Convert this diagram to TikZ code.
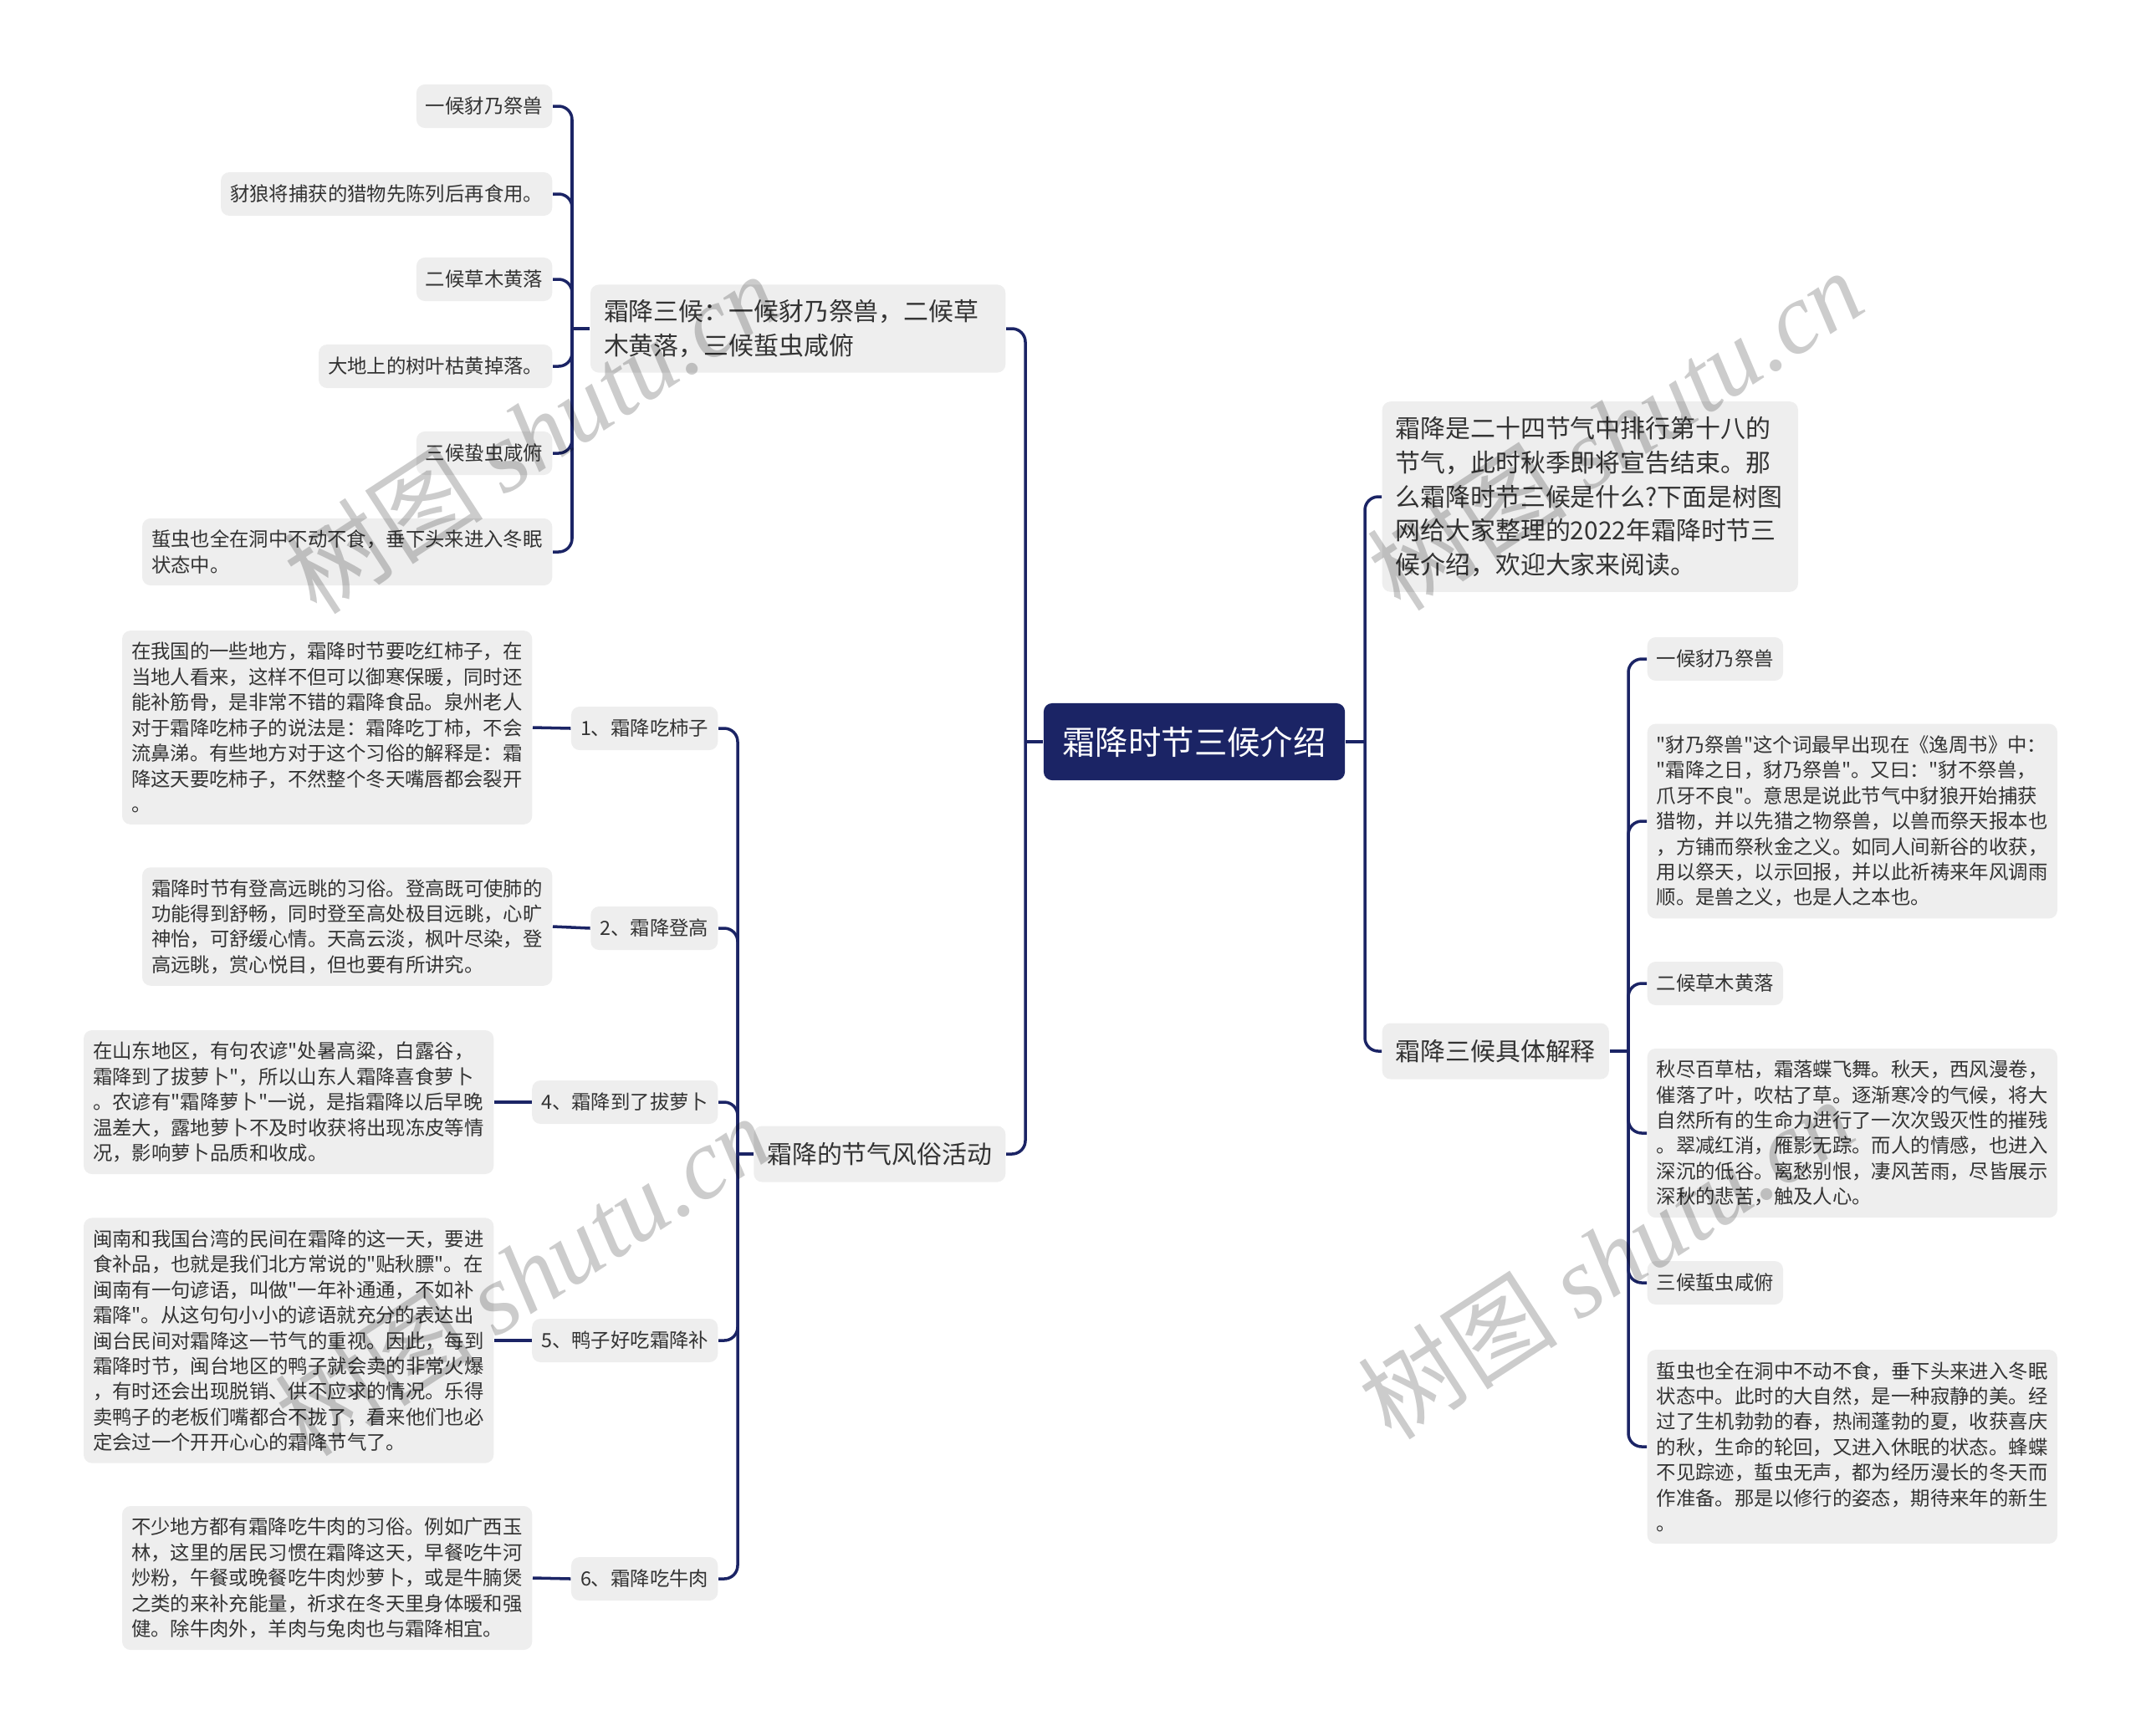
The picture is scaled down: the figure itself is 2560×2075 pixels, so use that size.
\documentclass[tikz,border=0pt]{standalone}
\usepackage{fontspec}
\setmainfont{Noto Sans CJK SC}[Ligatures=TeXOff]
\newfontfamily\wmlatin{Liberation Serif}
\definecolor{navy}{HTML}{1B2465}
\definecolor{boxgray}{HTML}{EEEEEE}
\definecolor{ink}{HTML}{333333}

\begin{document}
\begin{tikzpicture}[x=0.01cm, y=-0.01cm,
        topic/.style={rectangle, rounded corners=1mm, fill=navy, text=white,
            font=\fontsize{11.2pt}{14pt}\selectfont, minimum width=3.6cm, minimum height=0.92cm},
        branch/.style={rectangle, rounded corners=1mm, fill=boxgray, text=ink,
            font=\fontsize{8.5pt}{11.6pt}\selectfont, inner xsep=1.6mm, inner ysep=1.8mm,
            minimum height=0.67cm, align=left},
        leaf/.style={rectangle, rounded corners=1mm, fill=boxgray, text=ink,
            font=\fontsize{6.65pt}{8.65pt}\selectfont, inner xsep=1.1mm, inner ysep=1.4mm,
            minimum height=0.52cm, align=left},
        note/.style={leaf, text width=4.68cm},
        link/.style={draw=navy, line width=1pt, rounded corners=1.6mm},
        wm/.style={text=black, text opacity=0.2, font=\fontsize{34pt}{34pt}\selectfont, rotate=33}
    ]
    \useasboundingbox (0,0) rectangle (2560,2075);

    \node[topic] (root) at (1428,887) {霜降时节三候介绍};

    \node[branch, anchor=east, text width=4.64cm] (sanhou) at (1203,393)
        {霜降三候：一候豺乃祭兽，二候草\\木黄落，三候蜇虫咸俯};
    \node[branch, anchor=east] (fengsu) at (1203,1380) {霜降的节气风俗活动};
    \node[branch, anchor=west, text width=4.65cm] (intro) at (1652,594)
        {霜降是二十四节气中排行第十八的\\节气，此时秋季即将宣告结束。那\\么霜降时节三候是什么?下面是树图\\网给大家整理的2022年霜降时节三\\候介绍，欢迎大家来阅读。};
    \node[branch, anchor=west] (jieshi) at (1652,1257) {霜降三候具体解释};

    \node[leaf, anchor=east] (s1) at (661,127) {一候豺乃祭兽};
    \node[leaf, anchor=east] (s2) at (661,232) {豺狼将捕获的猎物先陈列后再食用。};
    \node[leaf, anchor=east] (s3) at (661,334) {二候草木黄落};
    \node[leaf, anchor=east] (s4) at (661,438) {大地上的树叶枯黄掉落。};
    \node[leaf, anchor=east] (s5) at (661,542) {三候蛰虫咸俯};
    \node[note, anchor=east] (s6) at (661,660) {蜇虫也全在洞中不动不食，垂下头来进入冬眠\\状态中。};

    \node[leaf, anchor=east] (m1) at (859,871) {1、霜降吃柿子};
    \node[leaf, anchor=east] (m2) at (859,1110) {2、霜降登高};
    \node[leaf, anchor=east] (m3) at (859,1318) {4、霜降到了拔萝卜};
    \node[leaf, anchor=east] (m4) at (859,1603) {5、鸭子好吃霜降补};
    \node[leaf, anchor=east] (m5) at (859,1888) {6、霜降吃牛肉};

    \node[note, anchor=east] (d1) at (637,870) {在我国的一些地方，霜降时节要吃红柿子，在\\当地人看来，这样不但可以御寒保暖，同时还\\能补筋骨，是非常不错的霜降食品。泉州老人\\对于霜降吃柿子的说法是：霜降吃丁柿，不会\\流鼻涕。有些地方对于这个习俗的解释是：霜\\降这天要吃柿子，不然整个冬天嘴唇都会裂开\\。};
    \node[note, anchor=east] (d2) at (661,1108) {霜降时节有登高远眺的习俗。登高既可使肺的\\功能得到舒畅，同时登至高处极目远眺，心旷\\神怡，可舒缓心情。天高云淡，枫叶尽染，登\\高远眺，赏心悦目，但也要有所讲究。};
    \node[note, anchor=east] (d3) at (591,1318) {在山东地区，有句农谚"处暑高粱，白露谷，\\霜降到了拔萝卜"，所以山东人霜降喜食萝卜\\。农谚有"霜降萝卜"一说，是指霜降以后早晚\\温差大，露地萝卜不及时收获将出现冻皮等情\\况，影响萝卜品质和收成。};
    \node[note, anchor=east] (d4) at (591,1603) {闽南和我国台湾的民间在霜降的这一天，要进\\食补品，也就是我们北方常说的"贴秋膘"。在\\闽南有一句谚语，叫做"一年补通通，不如补\\霜降"。从这句句小小的谚语就充分的表达出\\闽台民间对霜降这一节气的重视。因此，每到\\霜降时节，闽台地区的鸭子就会卖的非常火爆\\，有时还会出现脱销、供不应求的情况。乐得\\卖鸭子的老板们嘴都合不拢了，看来他们也必\\定会过一个开开心心的霜降节气了。};
    \node[note, anchor=east] (d5) at (637,1887) {不少地方都有霜降吃牛肉的习俗。例如广西玉\\林，这里的居民习惯在霜降这天，早餐吃牛河\\炒粉，午餐或晚餐吃牛肉炒萝卜，或是牛腩煲\\之类的来补充能量，祈求在冬天里身体暖和强\\健。除牛肉外，羊肉与兔肉也与霜降相宜。};

    \node[leaf, anchor=west] (r1) at (1969,788) {一候豺乃祭兽};
    \node[note, anchor=west] (r2) at (1969,982) {"豺乃祭兽"这个词最早出现在《逸周书》中：\\"霜降之日，豺乃祭兽"。又曰："豺不祭兽，\\爪牙不良"。意思是说此节气中豺狼开始捕获\\猎物，并以先猎之物祭兽，以兽而祭天报本也\\，方铺而祭秋金之义。如同人间新谷的收获，\\用以祭天，以示回报，并以此祈祷来年风调雨\\顺。是兽之义，也是人之本也。};
    \node[leaf, anchor=west] (r3) at (1969,1176) {二候草木黄落};
    \node[note, anchor=west] (r4) at (1969,1355) {秋尽百草枯，霜落蝶飞舞。秋天，西风漫卷，\\催落了叶，吹枯了草。逐渐寒冷的气候，将大\\自然所有的生命力进行了一次次毁灭性的摧残\\。翠减红消，雁影无踪。而人的情感，也进入\\深沉的低谷。离愁别恨，凄风苦雨，尽皆展示\\深秋的悲苦，触及人心。};
    \node[leaf, anchor=west] (r5) at (1969,1534) {三候蜇虫咸俯};
    \node[note, anchor=west] (r6) at (1969,1730) {蜇虫也全在洞中不动不食，垂下头来进入冬眠\\状态中。此时的大自然，是一种寂静的美。经\\过了生机勃勃的春，热闹蓬勃的夏，收获喜庆\\的秋，生命的轮回，又进入休眠的状态。蜂蝶\\不见踪迹，蜇虫无声，都为经历漫长的冬天而\\作准备。那是以修行的姿态，期待来年的新生\\。};

    \coordinate (rl) at (1226,887);
    \coordinate (rr) at (1632,887);
    \coordinate (sl) at (684,393);
    \coordinate (fl) at (882,1380);
    \coordinate (jr) at (1947,1257);

    \draw[link] (root.west) -- (rl);
    \draw[link] (root.east) -- (rr);
    \foreach \n in {sanhou,fengsu} \draw[link] (rl) |- (\n.east);
    \foreach \n in {intro,jieshi} \draw[link] (rr) |- (\n.west);

    \draw[link] (sanhou.west) -- (sl);
    \foreach \n in {s1,s2,s3,s4,s5,s6} \draw[link] (sl) |- (\n.east);

    \draw[link] (fengsu.west) -- (fl);
    \foreach \n in {m1,m2,m3,m4,m5} \draw[link] (fl) |- (\n.east);
    \foreach \i in {1,...,5} \draw[link] (m\i.west) -- (d\i.east);

    \draw[link] (jieshi.east) -- (jr);
    \foreach \n in {r1,r2,r3,r4,r5,r6} \draw[link] (jr) |- (\n.west);

    \node[wm] (wm1) at (635,518) {树图 {\wmlatin\itshape shutu.cn}};
    \node[wm] (wm2) at (1931,514) {树图 {\wmlatin\itshape shutu.cn}};
    \node[wm] (wm3) at (625,1525) {树图 {\wmlatin\itshape shutu.cn}};
    \node[wm] (wm4) at (1920,1505) {树图 {\wmlatin\itshape shutu.cn}};
\end{tikzpicture}
\end{document}
